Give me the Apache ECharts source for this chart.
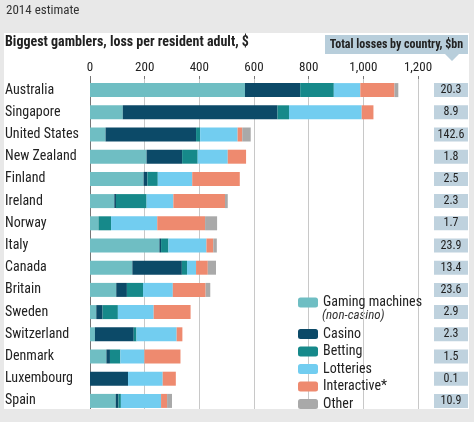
<!DOCTYPE html>
<html><head><meta charset="utf-8">
<script src="https://cdn.jsdelivr.net/npm/echarts@6/dist/echarts.min.js"></script>
<style>html,body{margin:0;padding:0;background:#e8e8e8}#c{width:474px;height:422px}</style>
</head><body><div id="c"></div>
<script>
const categories = ['Australia','Singapore','United States','New Zealand','Finland','Ireland','Norway','Italy','Canada','Britain','Sweden','Switzerland','Denmark','Luxembourg','Spain'];
const gamingMachines = [567,120,57,207,196,89,31,254,155,96,23,18,60,0,94];
const casino = [202,566,331,130,14,6,0,6,181,39,23,142,13,139,10];
const betting = [123,42,15,57,38,112,46,27,19,59,56,10,38,0,9];
const lotteries = [97,266,137,110,126,98,169,139,33,109,131,147,88,127,147];
const interactive = [125,43,17,67,174,189,175,25,43,120,135,21,132,48,22];
const other = [14,0,31,0,0,10,44,13,30,17,0,0,0,0,18];
const totals = ['20.3','8.9','142.6','1.8','2.5','2.3','1.7','23.9','13.4','23.6','2.9','2.3','1.5','0.1','10.9'];
const seriesNames = ['Gaming machines','Casino','Betting','Lotteries','Interactive*','Other'];
const colors = ['#6fbec3','#0c4a68','#16898a','#72cdf0','#ee8a6f','#a9a9a9'];

const FONT = '"Liberation Sans Narrow","Roboto Condensed","DejaVu Sans Condensed",Roboto,sans-serif';
const chart = echarts.init(document.getElementById('c'));
const seriesData = [gamingMachines, casino, betting, lotteries, interactive, other];

chart.setOption({
  backgroundColor: '#e8e8e8',
  textStyle: { fontFamily: FONT },
  animation: false,
  grid: { left: 90, right: 56, top: 79, bottom: 10 },
  graphic: [
    { type: 'rect', z: -10, shape: { x: 4, y: 33, width: 465, height: 377 }, style: { fill: '#ffffff' } },
    { type: 'rect', z: 100, shape: { x: 0, y: 409, width: 474, height: 13 }, style: { fill: '#e8e8e8' } },
    { type: 'text', x: 6, y: 11, style: { text: '2014 estimate', fontFamily: FONT, fontSize: 13, fill: '#333', verticalAlign: 'middle' } },
    { type: 'text', x: 5, y: 42, style: { text: 'Biggest gamblers, loss per resident adult, $', fontFamily: FONT, fontSize: 14, fontWeight: 'bold', fill: '#222', verticalAlign: 'middle' } },
    { type: 'polygon', shape: { points: [[325,35],[468,35],[468,54],[459,54],[452,61],[445,54],[325,54]] }, style: { fill: '#b8cedb' } },
    { type: 'text', x: 396.5, y: 44.5, style: { text: 'Total losses by country, $bn', fontFamily: FONT, fontSize: 12, fontWeight: 'bold', fill: '#222', align: 'center', verticalAlign: 'middle' } },
    { type: 'text', x: 322, y: 316, style: { text: '(non-casino)', fontFamily: FONT, fontSize: 13, fontStyle: 'italic', fill: '#333', verticalAlign: 'middle' } }
  ],
  legend: [
    { data: [seriesNames[0]], orient: 'vertical', left: 298, top: 295, padding: 0, itemWidth: 20, itemHeight: 10, selectedMode: false,
      textStyle: { fontFamily: FONT, fontSize: 14, color: '#222', lineHeight: 15 } },
    { data: seriesNames.slice(1), orient: 'vertical', left: 298, top: 326.5, padding: 0, itemGap: 2.5, itemWidth: 20, itemHeight: 10, selectedMode: false,
      textStyle: { fontFamily: FONT, fontSize: 14, color: '#222', lineHeight: 15 } }
  ],
  xAxis: {
    type: 'value', position: 'top', min: 0, max: 1200, interval: 200,
    axisLine: { show: false },
    axisTick: { show: true, length: 3, lineStyle: { color: '#777' } },
    axisLabel: { fontFamily: FONT, fontSize: 13, color: '#222', margin: 5,
      formatter: v => v >= 1000 ? (Math.floor(v/1000) + ',' + String(v%1000).padStart(3,'0')) : String(v) },
    splitLine: { show: true, lineStyle: { color: '#c8c8c8', width: 1 } }
  },
  yAxis: [
    { type: 'category', data: categories, inverse: true,
      axisLine: { show: true, lineStyle: { color: '#777', width: 1 } },
      axisTick: { show: false },
      axisLabel: { fontFamily: FONT, fontSize: 14, color: '#222', align: 'left', margin: 85 } },
    { type: 'category', data: categories, inverse: true, position: 'right',
      axisLine: { show: false }, axisTick: { show: false },
      axisLabel: { formatter: (v, i) => totals[i], fontFamily: FONT, fontSize: 12, color: '#222',
        align: 'center', margin: 33, backgroundColor: '#bfd2de', width: 28, padding: [1, 3], lineHeight: 12 } }
  ],
  series: seriesNames.map((n, k) => ({
    name: n, type: 'bar', stack: 'total', barWidth: 14,
    itemStyle: { color: colors[k] },
    data: seriesData[k]
  }))
});
</script></body></html>
